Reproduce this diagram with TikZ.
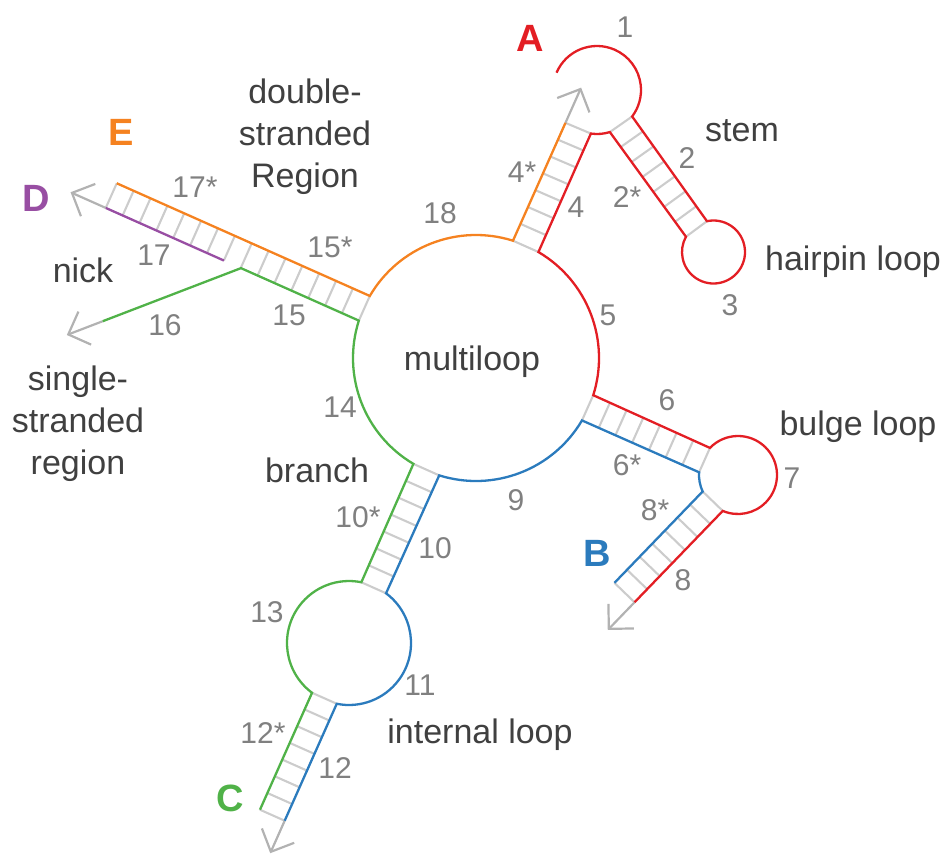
\documentclass[tikz,border=0pt]{standalone}
\usepackage{fontspec}
\setmainfont{Liberation Sans}
\usetikzlibrary{calc}
\definecolor{cred}{RGB}{227,30,36}
\definecolor{corange}{RGB}{245,130,32}
\definecolor{cblue}{RGB}{43,123,189}
\definecolor{cgreen}{RGB}{80,178,72}
\definecolor{cpurple}{RGB}{152,78,163}
\definecolor{rungc}{RGB}{204,204,204}
\definecolor{arrc}{RGB}{178,178,178}
\definecolor{numc}{RGB}{128,128,128}
\definecolor{lblc}{RGB}{64,64,64}
\newcommand\garrow[2]{\draw[arr] ($(#1)+(#2+45:25)$) -- (#1) -- ($(#1)+(#2-45:25)$);}
\begin{document}
\begin{tikzpicture}[x=1pt,y=1pt,
  strand/.style={line width=2.3pt,line join=miter},
  rung/.style={draw=rungc,line width=2.1pt},
  arr/.style={draw=arrc,line width=2.2pt},
  num/.style={text=numc,font=\fontsize{30}{35}\selectfont,inner sep=0pt},
  lbl/.style={text=lblc,font=\fontsize{34}{42}\selectfont,inner sep=0pt,align=center},
  big/.style={font=\fontsize{38}{44}\selectfont\bfseries,inner sep=0pt}]
\useasboundingbox (0,0) rectangle (944,-854);
% loop centres
\coordinate (M) at (476,-358);
\coordinate (L) at (597,-90);
\coordinate (H) at (713.5,-252);
\coordinate (G) at (738,-475);
\coordinate (I) at (349,-643);
% stem 4 / 4*
\coordinate (m4s) at ($(M)+(72.5:123)$);
\coordinate (m4) at ($(M)+(59.5:123)$);
\coordinate (a4s) at ($(m4s)+(66:129)$);
\coordinate (a4) at ($(L)+(-98:44)$);
\coordinate (tipA) at ($(a4s)+(66:37)$);
% stem 2 / 2*
\coordinate (l2) at ($(L)+(-37:44)$);
\coordinate (l2s) at ($(L)+(-73:44)$);
\coordinate (h2) at ($(H)+(102:31.5)$);
\coordinate (h2s) at ($(H)+(151:31.5)$);
% stem 6 / 6*
\coordinate (m6) at ($(M)+(-17.6:123)$);
\coordinate (m6s) at ($(M)+(-30.5:123)$);
\coordinate (g6) at ($(G)+(136:39)$);
\coordinate (g6s) at ($(G)+(176:39)$);
% stem 8 / 8*
\coordinate (g8s) at ($(G)+(205:39)$);
\coordinate (g8) at ($(G)+(247:39)$);
\coordinate (b8s) at ($(g8s)+(226:127)$);
\coordinate (b8) at ($(g8)+(226:127)$);
\coordinate (tipB) at ($(b8)+(226:37)$);
% stem 10 / 10*
\coordinate (m10) at ($(M)+(-107.4:123)$);
\coordinate (m10s) at ($(M)+(-120.6:123)$);
\coordinate (i10) at ($(I)+(53.3:62)$);
\coordinate (i10s) at ($(I)+(78.5:62)$);
% stem 12 / 12*
\coordinate (i12s) at ($(I)+(233.4:62)$);
\coordinate (i12) at ($(I)+(258.6:62)$);
\coordinate (c12s) at ($(i12s)+(246:128)$);
\coordinate (c12) at ($(i12)+(246:128)$);
\coordinate (tipC) at ($(c12)+(246:34)$);
% stem 15/17 and 16
\coordinate (m15) at ($(M)+(162.3:123)$);
\coordinate (m15s) at ($(M)+(149.7:123)$);
\coordinate (e17s) at ($(m15s)+(156:277)$);
\coordinate (d17) at ($(m15)+(156:277)$);
\coordinate (nick) at ($(m15)+(156:147.7)$);
\coordinate (J) at ($(m15)+(156:129)$);
\coordinate (g16) at ($(J)+(201:148)$);
\coordinate (tipD) at ($(d17)+(156:37)$);
\coordinate (tipG) at ($(g16)+(201:37)$);

% rungs
\foreach \i in {0,...,7}{
  \draw[rung] ($(m4s)!\i/7!(a4s)$) -- ($(m4)!\i/7!(a4)$);
  \draw[rung] ($(l2)!\i/7!(h2)$) -- ($(l2s)!\i/7!(h2s)$);
  \draw[rung] ($(m6)!\i/7!(g6)$) -- ($(m6s)!\i/7!(g6s)$);
  \draw[rung] ($(g8s)!\i/7!(b8s)$) -- ($(g8)!\i/7!(b8)$);
  \draw[rung] ($(m10)!\i/7!(i10)$) -- ($(m10s)!\i/7!(i10s)$);
  \draw[rung] ($(i12s)!\i/7!(c12s)$) -- ($(i12)!\i/7!(c12)$);
}
\foreach \i in {0,...,15}{
  \draw[rung] ($(m15s)!\i/15!(e17s)$) -- ($(m15)!\i/15!(d17)$);
}

% gray arrows
\draw[arr] (a4s) -- (tipA); \garrow{tipA}{246}
\draw[arr] (b8) -- (tipB); \garrow{tipB}{46}
\draw[arr] (c12) -- (tipC); \garrow{tipC}{66}
\draw[arr] (d17) -- (tipD); \garrow{tipD}{-24}
\draw[arr] (g16) -- (tipG); \garrow{tipG}{21}

% red strand
\draw[strand,cred] ($(L)+(156.8:44)$) arc[start angle=156.8,end angle=-37,radius=44]
  -- (h2) arc[start angle=102,end angle=-209,radius=31.5]
  -- (l2s) arc[start angle=-73,end angle=-98,radius=44]
  -- (m4) arc[start angle=59.5,end angle=-17.6,radius=123]
  -- (g6) arc[start angle=136,end angle=-113,radius=39]
  -- (b8);
% blue strand
\draw[strand,cblue] (b8s) -- (g8s) arc[start angle=205,end angle=176,radius=39]
  -- (m6s) arc[start angle=-30.5,end angle=-107.4,radius=123]
  -- (i10) arc[start angle=53.3,end angle=-101.4,radius=62]
  -- (c12);
% green strand
\draw[strand,cgreen] (c12s) -- (i12s) arc[start angle=233.4,end angle=78.5,radius=62]
  -- (m10s) arc[start angle=-120.6,end angle=-197.7,radius=123]
  -- (J) -- (g16);
% orange strand
\draw[strand,corange] (e17s) -- (m15s) arc[start angle=149.7,end angle=72.5,radius=123]
  -- (a4s);
% purple strand
\draw[strand,cpurple] (d17) -- (nick);

% labels
\node[big,text=cred] (tA) at (530,-38) {A};
\node[num] (n1) at (625,-27) {1};
\node[lbl] (tstem) at (742,-131) {stem};
\node[num] (n2) at (687,-158) {2};
\node[num] (n2s) at (627,-197) {2*};
\node[num] (n4s) at (522,-172) {4*};
\node[num] (n4) at (576,-207) {4};
\node[lbl] (thp) at (853,-262) {hairpin loop};
\node[num] (n3) at (730,-305) {3};
\node[num] (n18) at (440,-213) {18};
\node[num] (n5) at (608,-315) {5};
\node[lbl] (tml) at (472,-362) {multiloop};
\node[lbl] (tds) at (305,-137) {double-\\stranded\\Region};
\node[big,text=corange] (tE) at (121,-132) {E};
\node[big,text=cpurple] (tD) at (36,-198) {D};
\node[num] (n17s) at (195,-187) {17*};
\node[num] (n15s) at (330,-247) {15*};
\node[num] (n17) at (154,-255) {17};
\node[lbl] (tnick) at (83,-270) {nick};
\node[num] (n16) at (165,-325) {16};
\node[num] (n15) at (289,-315) {15};
\node[lbl] (tss) at (78,-424) {single-\\stranded\\region};
\node[num] (n14) at (340,-407) {14};
\node[lbl] (tbr) at (317,-470) {branch};
\node[num] (n6) at (667,-400) {6};
\node[lbl] (tbl) at (858,-427) {bulge loop};
\node[num] (n6s) at (627,-465) {6*};
\node[num] (n7) at (792,-478) {7};
\node[num] (n8s) at (655,-510) {8*};
\node[big,text=cblue] (tB) at (597,-553) {B};
\node[num] (n8) at (683,-580) {8};
\node[num] (n9) at (516,-500) {9};
\node[num] (n10s) at (358,-517) {10*};
\node[num] (n10) at (435,-548) {10};
\node[num] (n13) at (267,-612) {13};
\node[num] (n11) at (420,-685) {11};
\node[lbl] (til) at (480,-735) {internal loop};
\node[num] (n12s) at (263,-733) {12*};
\node[num] (n12) at (335,-768) {12};
\node[big,text=cgreen] (tC) at (230,-798) {C};
\end{tikzpicture}
\end{document}
